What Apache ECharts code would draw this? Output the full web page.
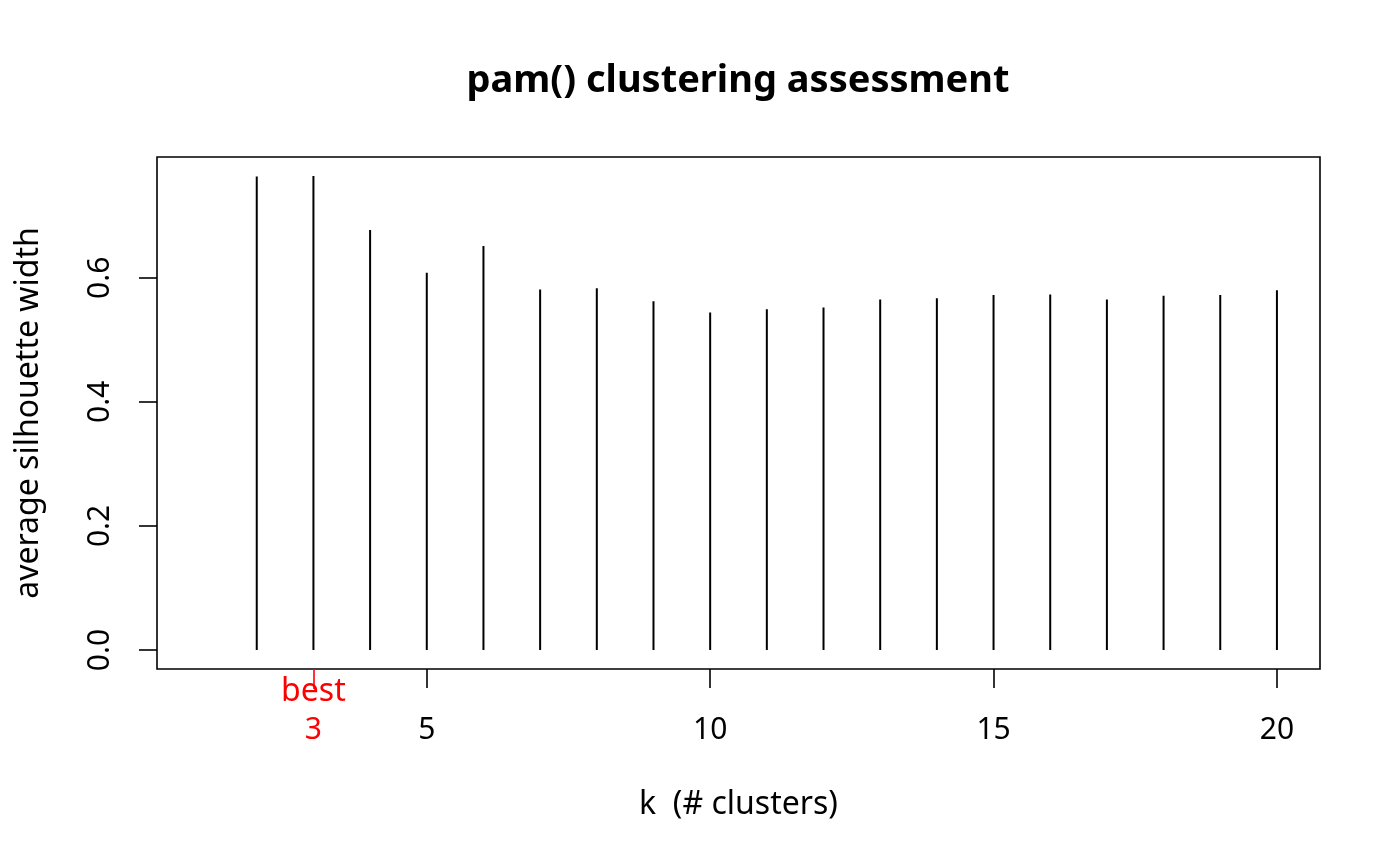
<!DOCTYPE html>
<html>
<head>
<meta charset="utf-8">
<script src="https://cdn.jsdelivr.net/npm/echarts@6/dist/echarts.min.js"></script>
<style>html,body{margin:0;padding:0;background:#fff}#c{width:1400px;height:866px}</style>
</head>
<body>
<div id="c"></div>
<script>
// k (# clusters) and average silhouette width
const kValues = [1, 2, 3, 4, 5, 6, 7, 8, 9, 10, 11, 12, 13, 14, 15, 16, 17, 18, 19, 20];
const avgWidth = [0, 0.763, 0.764, 0.677, 0.608, 0.651, 0.581, 0.583, 0.562, 0.544,
                  0.549, 0.552, 0.565, 0.567, 0.572, 0.573, 0.565, 0.571, 0.572, 0.580];
const xTicks = [5, 10, 15, 20];
const yTicks = [0, 0.2, 0.4, 0.6];
const bestK = 3;
const titleText = 'pam() clustering assessment';
const xTitle = 'k  (# clusters)';
const yTitle = 'average silhouette width';

const FONT = 'Noto Sans';
const xMin = 1 - 0.04 * 19, xMax = 20 + 0.04 * 19;
const yMaxData = Math.max(...avgWidth);
const yMin = -0.04 * yMaxData, yMax = yMaxData * 1.04;

const baseX = {
  type: 'value', min: xMin, max: xMax, position: 'bottom',
  axisLine: { show: false, onZero: false }, splitLine: { show: false }
};

const chart = echarts.init(document.getElementById('c'), null, { renderer: 'canvas' });
chart.setOption({
  animation: false,
  backgroundColor: '#fff',
  title: {
    text: titleText, left: 733, top: 57, textAlign: 'center',
    textStyle: { fontFamily: FONT, fontWeight: 'bold', fontSize: 38, color: '#000' }
  },
  grid: { left: 157, right: 80, top: 157, bottom: 197, show: true, borderColor: '#000', borderWidth: 1.6, backgroundColor: 'transparent' },
  xAxis: [
    Object.assign({}, baseX, {
      name: xTitle, nameLocation: 'middle', nameGap: 120,
      nameTextStyle: { fontFamily: FONT, fontSize: 32, color: '#000' },
      axisTick: { show: true, inside: false, length: 19, customValues: xTicks, lineStyle: { color: '#000', width: 1.6 } },
      axisLabel: { show: true, customValues: xTicks, margin: 46, fontFamily: FONT, fontSize: 30, lineHeight: 30, color: '#000',
        formatter: v => String(v) }
    }),
    Object.assign({}, baseX, {
      axisTick: { show: true, inside: false, length: 20, customValues: [bestK], lineStyle: { color: '#ff0000', width: 1.6 } },
      axisLabel: { show: true, customValues: [bestK], margin: 46, fontFamily: FONT, fontSize: 30, lineHeight: 30, color: '#ff0000',
        formatter: v => String(v) }
    }),
    Object.assign({}, baseX, {
      axisTick: { show: false },
      axisLabel: { show: true, customValues: [bestK], margin: 7, fontFamily: FONT, fontSize: 32, lineHeight: 32, color: '#ff0000',
        formatter: () => 'best' }
    })
  ],
  yAxis: {
    type: 'value', min: yMin, max: yMax,
    name: yTitle, nameLocation: 'middle', nameGap: 112, nameRotate: 90,
    nameTextStyle: { fontFamily: FONT, fontSize: 32, color: '#000' },
    axisLine: { show: false, onZero: false }, splitLine: { show: false },
    axisTick: { show: true, inside: false, length: 18, customValues: yTicks, lineStyle: { color: '#000', width: 1.6 } },
    axisLabel: { show: true, customValues: yTicks, rotate: 90, margin: 42, fontFamily: FONT, fontSize: 30, lineHeight: 30, color: '#000',
      formatter: v => v.toFixed(1) }
  },
  series: [{
    type: 'bar', xAxisIndex: 0, yAxisIndex: 0,
    barWidth: 2,
    itemStyle: { color: '#000' },
    data: kValues.map((k, i) => [k, avgWidth[i]])
  }]
});
</script>
</body>
</html>
